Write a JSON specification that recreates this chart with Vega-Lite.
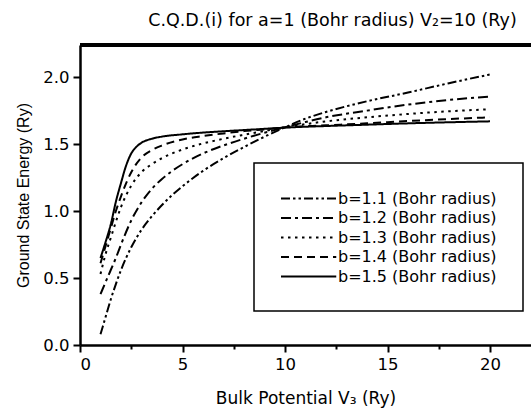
{
  "$schema": "https://vega.github.io/schema/vega-lite/v6.json",
  "width": 451,
  "height": 300,
  "autosize": {"type": "none"},
  "padding": {"left": 80, "top": 45, "right": 0, "bottom": 63},
  "background": "white",
  "title": {
    "text": "C.Q.D.(i) for a=1 (Bohr radius) V₂=10 (Ry)",
    "font": "DejaVu Sans",
    "fontSize": 17.5,
    "fontWeight": "normal",
    "color": "black",
    "anchor": "middle",
    "dx": 27,
    "offset": 14
  },
  "config": {
    "view": {"stroke": null},
    "axis": {
      "grid": false,
      "domainColor": "black",
      "domainWidth": 2.5,
      "tickColor": "black",
      "tickWidth": 2,
      "labelColor": "black",
      "labelFont": "DejaVu Sans",
      "labelFontSize": 16.5,
      "titleColor": "black",
      "titleFontWeight": "normal"
    },
    "legend": {
      "symbolType": "M-1,0L5.5,0",
      "symbolSize": 289,
      "symbolStrokeWidth": 2,
      "symbolStrokeColor": "black",
      "labelFont": "DejaVu Sans",
      "labelFontSize": 16,
      "labelColor": "black",
      "labelLimit": 0,
      "labelOffset": 39,
      "rowPadding": 1.5,
      "padding": 26,
      "strokeColor": "black",
      "strokeWidth": 1.5,
      "fillColor": "white"
    }
  },
  "data": {
    "values": [
      {"b": "b=1.1 (Bohr radius)", "V3": 1, "E": 0.08},
      {"b": "b=1.1 (Bohr radius)", "V3": 1.25, "E": 0.21},
      {"b": "b=1.1 (Bohr radius)", "V3": 1.5, "E": 0.34},
      {"b": "b=1.1 (Bohr radius)", "V3": 1.75, "E": 0.455},
      {"b": "b=1.1 (Bohr radius)", "V3": 2, "E": 0.56},
      {"b": "b=1.1 (Bohr radius)", "V3": 2.5, "E": 0.73},
      {"b": "b=1.1 (Bohr radius)", "V3": 3, "E": 0.86},
      {"b": "b=1.1 (Bohr radius)", "V3": 3.5, "E": 0.96},
      {"b": "b=1.1 (Bohr radius)", "V3": 4, "E": 1.045},
      {"b": "b=1.1 (Bohr radius)", "V3": 4.5, "E": 1.12},
      {"b": "b=1.1 (Bohr radius)", "V3": 5, "E": 1.185},
      {"b": "b=1.1 (Bohr radius)", "V3": 5.5, "E": 1.245},
      {"b": "b=1.1 (Bohr radius)", "V3": 6, "E": 1.3},
      {"b": "b=1.1 (Bohr radius)", "V3": 7, "E": 1.395},
      {"b": "b=1.1 (Bohr radius)", "V3": 8, "E": 1.478},
      {"b": "b=1.1 (Bohr radius)", "V3": 9, "E": 1.555},
      {"b": "b=1.1 (Bohr radius)", "V3": 10, "E": 1.625},
      {"b": "b=1.1 (Bohr radius)", "V3": 11, "E": 1.69},
      {"b": "b=1.1 (Bohr radius)", "V3": 12, "E": 1.74},
      {"b": "b=1.1 (Bohr radius)", "V3": 14, "E": 1.82},
      {"b": "b=1.1 (Bohr radius)", "V3": 16, "E": 1.885},
      {"b": "b=1.1 (Bohr radius)", "V3": 18, "E": 1.955},
      {"b": "b=1.1 (Bohr radius)", "V3": 20, "E": 2.02},

      {"b": "b=1.2 (Bohr radius)", "V3": 1, "E": 0.38},
      {"b": "b=1.2 (Bohr radius)", "V3": 1.25, "E": 0.47},
      {"b": "b=1.2 (Bohr radius)", "V3": 1.5, "E": 0.56},
      {"b": "b=1.2 (Bohr radius)", "V3": 1.75, "E": 0.65},
      {"b": "b=1.2 (Bohr radius)", "V3": 2, "E": 0.75},
      {"b": "b=1.2 (Bohr radius)", "V3": 2.5, "E": 0.93},
      {"b": "b=1.2 (Bohr radius)", "V3": 3, "E": 1.065},
      {"b": "b=1.2 (Bohr radius)", "V3": 3.5, "E": 1.165},
      {"b": "b=1.2 (Bohr radius)", "V3": 4, "E": 1.24},
      {"b": "b=1.2 (Bohr radius)", "V3": 4.5, "E": 1.3},
      {"b": "b=1.2 (Bohr radius)", "V3": 5, "E": 1.35},
      {"b": "b=1.2 (Bohr radius)", "V3": 6, "E": 1.43},
      {"b": "b=1.2 (Bohr radius)", "V3": 7, "E": 1.49},
      {"b": "b=1.2 (Bohr radius)", "V3": 8, "E": 1.54},
      {"b": "b=1.2 (Bohr radius)", "V3": 9, "E": 1.585},
      {"b": "b=1.2 (Bohr radius)", "V3": 10, "E": 1.625},
      {"b": "b=1.2 (Bohr radius)", "V3": 11, "E": 1.665},
      {"b": "b=1.2 (Bohr radius)", "V3": 12, "E": 1.7},
      {"b": "b=1.2 (Bohr radius)", "V3": 14, "E": 1.75},
      {"b": "b=1.2 (Bohr radius)", "V3": 16, "E": 1.795},
      {"b": "b=1.2 (Bohr radius)", "V3": 18, "E": 1.83},
      {"b": "b=1.2 (Bohr radius)", "V3": 20, "E": 1.855},

      {"b": "b=1.3 (Bohr radius)", "V3": 1, "E": 0.53},
      {"b": "b=1.3 (Bohr radius)", "V3": 1.25, "E": 0.68},
      {"b": "b=1.3 (Bohr radius)", "V3": 1.5, "E": 0.8},
      {"b": "b=1.3 (Bohr radius)", "V3": 1.75, "E": 0.92},
      {"b": "b=1.3 (Bohr radius)", "V3": 2, "E": 1.03},
      {"b": "b=1.3 (Bohr radius)", "V3": 2.5, "E": 1.19},
      {"b": "b=1.3 (Bohr radius)", "V3": 3, "E": 1.29},
      {"b": "b=1.3 (Bohr radius)", "V3": 3.5, "E": 1.35},
      {"b": "b=1.3 (Bohr radius)", "V3": 4, "E": 1.395},
      {"b": "b=1.3 (Bohr radius)", "V3": 5, "E": 1.46},
      {"b": "b=1.3 (Bohr radius)", "V3": 6, "E": 1.505},
      {"b": "b=1.3 (Bohr radius)", "V3": 7, "E": 1.54},
      {"b": "b=1.3 (Bohr radius)", "V3": 8, "E": 1.57},
      {"b": "b=1.3 (Bohr radius)", "V3": 9, "E": 1.598},
      {"b": "b=1.3 (Bohr radius)", "V3": 10, "E": 1.625},
      {"b": "b=1.3 (Bohr radius)", "V3": 12, "E": 1.67},
      {"b": "b=1.3 (Bohr radius)", "V3": 14, "E": 1.7},
      {"b": "b=1.3 (Bohr radius)", "V3": 16, "E": 1.725},
      {"b": "b=1.3 (Bohr radius)", "V3": 18, "E": 1.745},
      {"b": "b=1.3 (Bohr radius)", "V3": 20, "E": 1.76},

      {"b": "b=1.4 (Bohr radius)", "V3": 1, "E": 0.61},
      {"b": "b=1.4 (Bohr radius)", "V3": 1.25, "E": 0.74},
      {"b": "b=1.4 (Bohr radius)", "V3": 1.5, "E": 0.87},
      {"b": "b=1.4 (Bohr radius)", "V3": 1.75, "E": 1.0},
      {"b": "b=1.4 (Bohr radius)", "V3": 2, "E": 1.11},
      {"b": "b=1.4 (Bohr radius)", "V3": 2.5, "E": 1.29},
      {"b": "b=1.4 (Bohr radius)", "V3": 3, "E": 1.4},
      {"b": "b=1.4 (Bohr radius)", "V3": 3.5, "E": 1.455},
      {"b": "b=1.4 (Bohr radius)", "V3": 4, "E": 1.49},
      {"b": "b=1.4 (Bohr radius)", "V3": 5, "E": 1.535},
      {"b": "b=1.4 (Bohr radius)", "V3": 6, "E": 1.56},
      {"b": "b=1.4 (Bohr radius)", "V3": 7, "E": 1.58},
      {"b": "b=1.4 (Bohr radius)", "V3": 8, "E": 1.597},
      {"b": "b=1.4 (Bohr radius)", "V3": 9, "E": 1.61},
      {"b": "b=1.4 (Bohr radius)", "V3": 10, "E": 1.625},
      {"b": "b=1.4 (Bohr radius)", "V3": 12, "E": 1.64},
      {"b": "b=1.4 (Bohr radius)", "V3": 14, "E": 1.655},
      {"b": "b=1.4 (Bohr radius)", "V3": 16, "E": 1.672},
      {"b": "b=1.4 (Bohr radius)", "V3": 18, "E": 1.687},
      {"b": "b=1.4 (Bohr radius)", "V3": 20, "E": 1.7},

      {"b": "b=1.5 (Bohr radius)", "V3": 1, "E": 0.65},
      {"b": "b=1.5 (Bohr radius)", "V3": 1.25, "E": 0.77},
      {"b": "b=1.5 (Bohr radius)", "V3": 1.5, "E": 0.9},
      {"b": "b=1.5 (Bohr radius)", "V3": 1.75, "E": 1.07},
      {"b": "b=1.5 (Bohr radius)", "V3": 2, "E": 1.21},
      {"b": "b=1.5 (Bohr radius)", "V3": 2.25, "E": 1.34},
      {"b": "b=1.5 (Bohr radius)", "V3": 2.5, "E": 1.43},
      {"b": "b=1.5 (Bohr radius)", "V3": 2.75, "E": 1.48},
      {"b": "b=1.5 (Bohr radius)", "V3": 3, "E": 1.51},
      {"b": "b=1.5 (Bohr radius)", "V3": 3.5, "E": 1.54},
      {"b": "b=1.5 (Bohr radius)", "V3": 4, "E": 1.556},
      {"b": "b=1.5 (Bohr radius)", "V3": 5, "E": 1.573},
      {"b": "b=1.5 (Bohr radius)", "V3": 6, "E": 1.586},
      {"b": "b=1.5 (Bohr radius)", "V3": 7, "E": 1.596},
      {"b": "b=1.5 (Bohr radius)", "V3": 8, "E": 1.605},
      {"b": "b=1.5 (Bohr radius)", "V3": 9, "E": 1.614},
      {"b": "b=1.5 (Bohr radius)", "V3": 10, "E": 1.623},
      {"b": "b=1.5 (Bohr radius)", "V3": 12, "E": 1.635},
      {"b": "b=1.5 (Bohr radius)", "V3": 14, "E": 1.645},
      {"b": "b=1.5 (Bohr radius)", "V3": 16, "E": 1.655},
      {"b": "b=1.5 (Bohr radius)", "V3": 18, "E": 1.663},
      {"b": "b=1.5 (Bohr radius)", "V3": 20, "E": 1.67}
    ]
  },
  "layer": [
    {
      "mark": {"type": "line", "color": "black", "strokeWidth": 2, "interpolate": "monotone"},
      "encoding": {
        "x": {
          "field": "V3",
          "type": "quantitative",
          "scale": {"domain": [0, 22], "nice": false, "zero": false},
          "axis": {
            "title": "Bulk Potential V₃ (Ry)",
            "titleFont": "DejaVu Sans",
            "titleFontSize": 17,
            "titlePadding": 18,
            "values": [0, 2.5, 5, 7.5, 10, 12.5, 15, 17.5, 20],
            "labelExpr": "datum.value % 5 === 0 ? datum.label : ''",
            "format": "~g",
            "labelPadding": 4,
            "tickSize": {"condition": {"test": "datum.value % 5 === 0", "value": 7}, "value": 4}
          }
        },
        "y": {
          "field": "E",
          "type": "quantitative",
          "scale": {"domain": [0, 2.24], "nice": false, "zero": false},
          "axis": {
            "title": "Ground State Energy (Ry)",
            "titleFont": "Liberation Sans",
            "titleFontSize": 16,
            "titlePadding": 11,
            "values": [0, 0.25, 0.5, 0.75, 1, 1.25, 1.5, 1.75, 2],
            "format": ".1f",
            "labelExpr": "round(datum.value * 4) % 2 === 0 ? datum.label : ''",
            "labelPadding": 4,
            "tickSize": {"condition": {"test": "round(datum.value * 4) % 2 === 0", "value": 7}, "value": 4}
          }
        },
        "strokeDash": {
          "field": "b",
          "type": "nominal",
          "scale": {
            "domain": ["b=1.1 (Bohr radius)", "b=1.2 (Bohr radius)", "b=1.3 (Bohr radius)", "b=1.4 (Bohr radius)", "b=1.5 (Bohr radius)"],
            "range": [[9, 3, 2.5, 3, 2.5, 3], [10, 4, 3, 4], [2.5, 4.5], [8, 5], [1, 0]]
          },
          "legend": {
            "title": null,
            "orient": "none",
            "legendX": 174,
            "legendY": 118
          }
        }
      }
    },
    {
      "mark": {"type": "rule", "color": "black", "strokeWidth": 2.5},
      "encoding": {"y": {"datum": 2.24}}
    }
  ]
}
